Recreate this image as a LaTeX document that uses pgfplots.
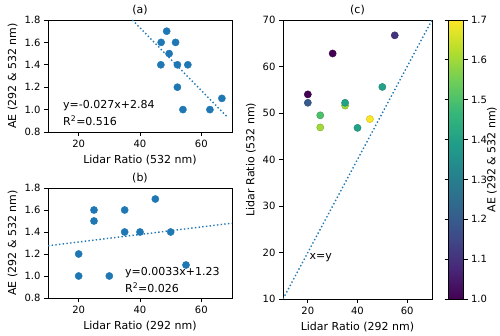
\documentclass[border=0pt]{standalone}
\usepackage{fontspec}
\setmainfont{DejaVu Sans}
\usepackage{pgfplots}
\usepackage{pgfplotstable}
\pgfplotsset{compat=1.18}
\definecolor{mplblue}{HTML}{1F77B4}
\pgfplotstableread{
lr292 lr532 ae
20 54.0 1.0
20 52.2 1.2
25 49.5 1.5
25 46.9 1.6
30 62.8 1.0
35 51.6 1.6
35 52.2 1.4
40 46.8 1.4
45 48.7 1.7
50 55.6 1.4
55 66.7 1.1
}\datatab
\newcommand{\ff}{\fontsize{11}{13}\selectfont}
\newcommand{\tf}{\fontsize{10}{12}\selectfont}
\pgfplotsset{
  colormap={myviridis}{rgb255=(68,1,84) rgb255=(72,40,120) rgb255=(62,74,137) rgb255=(49,104,142) rgb255=(38,130,142) rgb255=(31,158,137) rgb255=(53,183,121) rgb255=(109,205,89) rgb255=(180,222,44) rgb255=(253,231,37)},
  myaxis/.style={
    scale only axis,
    font=\ff,
    tick align=outside,
    major tick length=4pt,
    xtick pos=left, ytick pos=left,
    /pgf/number format/assume math mode=true,
    tick style={black, line width=0.8pt},
    axis line style={line width=0.8pt},
    title style={font=\ff, yshift=-4pt},
    label style={font=\ff},
    ticklabel style={font=\tf},
    xticklabel style={yshift=-1pt},
  },
  dotline/.style={mplblue, line width=1.4pt, dash pattern=on 1.4pt off 2.3pt},
}
\begin{document}
\begin{tikzpicture}[x=1pt,y=1pt]
\useasboundingbox (0,0) rectangle (500,336);
% (a)
\begin{axis}[myaxis, at={(48pt,204pt)}, anchor=south west, width=184pt, height=112pt,
  xmin=10, xmax=70, ymin=0.8, ymax=1.8,
  xtick={20,40,60}, ytick={0.8,1.0,1.2,1.4,1.6,1.8},
  yticklabel style={/pgf/number format/.cd, fixed, fixed zerofill, precision=1},
  title={(a)}, xlabel={Lidar Ratio (532 nm)}, ylabel={AE (292 \& 532 nm)}]
\addplot[dotline] coordinates {(37.5,1.80) (68.6,0.93)};
\addplot[only marks, mark=*, mark size=3.6pt, mplblue] table[x=lr532, y=ae] {\datatab};
\node[anchor=west, inner sep=0pt] at (axis cs:14.9,1.032) {y=-0.027x+2.84};
\node[anchor=west, inner sep=0pt] at (axis cs:14.9,0.901) {R\textsuperscript{2}=0.516};
\end{axis}
% (b)
\begin{axis}[myaxis, at={(48pt,38pt)}, anchor=south west, width=184pt, height=110pt,
  xmin=10, xmax=70, ymin=0.8, ymax=1.8,
  xtick={20,40,60}, ytick={0.8,1.0,1.2,1.4,1.6,1.8},
  yticklabel style={/pgf/number format/.cd, fixed, fixed zerofill, precision=1},
  title={(b)}, xlabel={Lidar Ratio (292 nm)}, ylabel={AE (292 \& 532 nm)}]
\addplot[dotline] coordinates {(10,1.275) (70,1.48)};
\addplot[only marks, mark=*, mark size=3.6pt, mplblue] table[x=lr292, y=ae] {\datatab};
\node[anchor=west, inner sep=0pt] at (axis cs:35.1,1.034) {y=0.0033x+1.23};
\node[anchor=west, inner sep=0pt] at (axis cs:35.1,0.894) {R\textsuperscript{2}=0.026};
\end{axis}
% (c)
\begin{axis}[myaxis, at={(283pt,37pt)}, anchor=south west, width=149pt, height=279pt,
  xmin=10, xmax=70, ymin=10, ymax=70,
  xtick={20,40,60}, ytick={10,20,30,40,50,60,70},
  title={(c)}, xlabel={Lidar Ratio (292 nm)}, ylabel={Lidar Ratio (532 nm)},
  colormap name=myviridis, point meta min=1.0, point meta max=1.7,
  colorbar,
  colorbar style={
    at={(parent axis.north east)}, anchor=north west, xshift=8pt,
    width=15pt,
    ytick={1.0,1.1,1.2,1.3,1.4,1.5,1.6,1.7},
    yticklabel style={font=\tf, /pgf/number format/.cd, fixed, fixed zerofill, precision=1},
    tick align=outside, major tick length=4pt,
    tick style={black, line width=0.8pt},
    axis line style={line width=0.8pt},
    ylabel={AE (292 \& 532 nm)},
    every axis y label/.style={at={(axis description cs:1,0.5)}, xshift=20pt, anchor=north, rotate=90, font=\ff},
    font=\ff,
    /pgf/number format/assume math mode=true,
  }]
\addplot[dotline, forget plot] coordinates {(10,10) (70,70)};
\addplot[scatter, only marks, mark=*, mark size=3.6pt, scatter src=explicit] table[x=lr292, y=lr532, meta=ae] {\datatab};
\node[anchor=west, inner sep=0pt] at (axis cs:20.6,18.97) {x=y};
\end{axis}
\end{tikzpicture}
\end{document}
